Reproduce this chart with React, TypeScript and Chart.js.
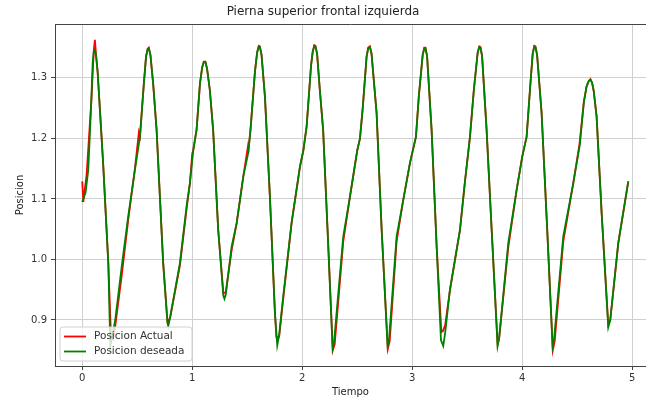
import React, { useEffect, useRef } from "react";
import { Chart, registerables } from "chart.js";

Chart.register(...registerables);

const chartTitle = "Pierna superior frontal izquierda";
const xAxisLabel = "Tiempo";
const yAxisLabel = "Posicion";
const seriesLabels = ["Posicion Actual", "Posicion deseada"];

const xTicks = [0, 1, 2, 3, 4, 5];
const yTicks = [0.9, 1.0, 1.1, 1.2, 1.3];

// [tiempo, posicion]
const posicionDeseada: [number, number][] = [
  [0.0, 1.095], [0.03, 1.11], [0.055, 1.148], [0.08, 1.25], [0.095, 1.325], [0.105, 1.343], [0.115, 1.346],
  [0.125, 1.338], [0.14, 1.31], [0.16, 1.25], [0.19, 1.159], [0.237, 0.994], [0.255, 0.857], [0.275, 0.875],
  [0.3, 0.9], [0.36, 0.99], [0.418, 1.071], [0.479, 1.148], [0.525, 1.203], [0.56, 1.29], [0.58, 1.335],
  [0.595, 1.348], [0.605, 1.349], [0.62, 1.338], [0.645, 1.29], [0.676, 1.214], [0.736, 0.994], [0.775, 0.895],
  [0.782, 0.89], [0.8, 0.905], [0.888, 0.994], [0.95, 1.09], [0.979, 1.126], [1.01, 1.181], [1.04, 1.215],
  [1.07, 1.29], [1.09, 1.317], [1.105, 1.326], [1.12, 1.326], [1.135, 1.315], [1.16, 1.28], [1.19, 1.214],
  [1.236, 1.049], [1.283, 0.94], [1.293, 0.935], [1.305, 0.942], [1.358, 1.021], [1.404, 1.06], [1.464, 1.137],
  [1.509, 1.176], [1.53, 1.215], [1.57, 1.31], [1.59, 1.342], [1.605, 1.352], [1.615, 1.351], [1.63, 1.338],
  [1.661, 1.269], [1.706, 1.104], [1.752, 0.911], [1.773, 0.858], [1.79, 0.875], [1.827, 0.939], [1.903, 1.06],
  [1.979, 1.153], [2.01, 1.18], [2.04, 1.22], [2.08, 1.32], [2.095, 1.343], [2.11, 1.353], [2.12, 1.352],
  [2.135, 1.34], [2.16, 1.28], [2.19, 1.214], [2.23, 1.05], [2.276, 0.853], [2.29, 0.865], [2.373, 1.038],
  [2.434, 1.104], [2.5, 1.18], [2.525, 1.2], [2.55, 1.25], [2.585, 1.335], [2.6, 1.349], [2.615, 1.351],
  [2.63, 1.34], [2.676, 1.242], [2.722, 1.049], [2.776, 0.857], [2.79, 0.87], [2.858, 1.038], [2.918, 1.098],
  [2.98, 1.16], [3.034, 1.203], [3.06, 1.27], [3.095, 1.338], [3.11, 1.349], [3.12, 1.349], [3.135, 1.336],
  [3.176, 1.214], [3.222, 1.021], [3.261, 0.867], [3.282, 0.857], [3.3, 0.88], [3.343, 0.95], [3.434, 1.049],
  [3.48, 1.13], [3.525, 1.203], [3.56, 1.28], [3.595, 1.342], [3.61, 1.351], [3.62, 1.35], [3.635, 1.336],
  [3.676, 1.214], [3.722, 1.049], [3.776, 0.857], [3.79, 0.87], [3.873, 1.027], [3.949, 1.115], [4.0, 1.17],
  [4.04, 1.203], [4.07, 1.28], [4.095, 1.34], [4.11, 1.352], [4.12, 1.351], [4.135, 1.338], [4.176, 1.242],
  [4.227, 1.049], [4.276, 0.856], [4.29, 0.87], [4.373, 1.038], [4.464, 1.126], [4.524, 1.19], [4.56, 1.26],
  [4.585, 1.286], [4.605, 1.295], [4.62, 1.297], [4.635, 1.292], [4.65, 1.278], [4.676, 1.236], [4.722, 1.076],
  [4.782, 0.888], [4.8, 0.9], [4.873, 1.027], [4.964, 1.129],
];

const posicionActual: [number, number][] = [
  [0.0, 1.129], [0.01, 1.095], [0.04, 1.14], [0.085, 1.269], [0.105, 1.345], [0.115, 1.363], [0.125, 1.34],
  [0.14, 1.31], [0.16, 1.25], [0.19, 1.159], [0.237, 0.994], [0.262, 0.87], [0.28, 0.868], [0.3, 0.89],
  [0.36, 0.975], [0.418, 1.065], [0.479, 1.15], [0.515, 1.21], [0.525, 1.203], [0.56, 1.29], [0.58, 1.335],
  [0.595, 1.348], [0.605, 1.35], [0.62, 1.338], [0.645, 1.29], [0.676, 1.214], [0.736, 0.994], [0.775, 0.897],
  [0.782, 0.897], [0.8, 0.905], [0.888, 0.99], [0.95, 1.085], [0.979, 1.126], [1.0, 1.175], [1.01, 1.181],
  [1.04, 1.215], [1.07, 1.29], [1.09, 1.317], [1.105, 1.327], [1.12, 1.327], [1.135, 1.315], [1.16, 1.28],
  [1.19, 1.214], [1.236, 1.049], [1.283, 0.944], [1.293, 0.945], [1.305, 0.946], [1.358, 1.015], [1.404, 1.06],
  [1.464, 1.137], [1.505, 1.185], [1.509, 1.176], [1.53, 1.215], [1.57, 1.31], [1.59, 1.342], [1.605, 1.353],
  [1.615, 1.352], [1.63, 1.338], [1.661, 1.269], [1.706, 1.104], [1.752, 0.911], [1.765, 0.872], [1.79, 0.872],
  [1.827, 0.935], [1.903, 1.06], [1.979, 1.153], [2.01, 1.18], [2.04, 1.22], [2.08, 1.32], [2.095, 1.343],
  [2.11, 1.354], [2.12, 1.353], [2.135, 1.34], [2.16, 1.28], [2.19, 1.214], [2.23, 1.05], [2.278, 0.85],
  [2.295, 0.86], [2.373, 1.03], [2.434, 1.104], [2.5, 1.18], [2.525, 1.2], [2.55, 1.25], [2.585, 1.335],
  [2.6, 1.35], [2.615, 1.352], [2.63, 1.34], [2.676, 1.242], [2.722, 1.049], [2.778, 0.852], [2.795, 0.865],
  [2.858, 1.03], [2.918, 1.098], [2.98, 1.16], [3.034, 1.203], [3.06, 1.27], [3.095, 1.338], [3.11, 1.35],
  [3.12, 1.35], [3.135, 1.336], [3.176, 1.214], [3.222, 1.021], [3.265, 0.88], [3.28, 0.882], [3.3, 0.892],
  [3.343, 0.95], [3.434, 1.049], [3.48, 1.13], [3.525, 1.203], [3.56, 1.28], [3.595, 1.342], [3.61, 1.352],
  [3.62, 1.351], [3.635, 1.336], [3.676, 1.214], [3.722, 1.049], [3.776, 0.86], [3.79, 0.87], [3.873, 1.02],
  [3.949, 1.115], [4.0, 1.17], [4.04, 1.203], [4.07, 1.28], [4.095, 1.34], [4.11, 1.353], [4.12, 1.352],
  [4.135, 1.338], [4.176, 1.242], [4.227, 1.049], [4.278, 0.85], [4.295, 0.865], [4.373, 1.03], [4.464, 1.126],
  [4.52, 1.19], [4.524, 1.19], [4.56, 1.26], [4.585, 1.286], [4.605, 1.295], [4.62, 1.298], [4.635, 1.292],
  [4.65, 1.278], [4.676, 1.236], [4.722, 1.076], [4.782, 0.892], [4.8, 0.9], [4.873, 1.027], [4.964, 1.129],
];

const pts = (pairs: [number, number][]) => pairs.map(([x, y]) => ({ x, y }));

const FONT = "'DejaVu Sans', sans-serif";

const framePlugin = {
  id: "frameAndLegend",
  afterDatasetsDraw(chart: any) {
    const { ctx, chartArea } = chart;
    ctx.save();
    ctx.strokeStyle = "#444444";
    ctx.lineWidth = 1;
    ctx.beginPath();
    ctx.moveTo(chartArea.left, chartArea.top + 0.5);
    ctx.lineTo(chartArea.right, chartArea.top + 0.5);
    ctx.stroke();

    const lx = chartArea.left + 5;
    const ly = chartArea.bottom - 39;
    const w = 132;
    const h = 34;
    const r = 3;
    ctx.beginPath();
    ctx.moveTo(lx + r, ly);
    ctx.lineTo(lx + w - r, ly);
    ctx.quadraticCurveTo(lx + w, ly, lx + w, ly + r);
    ctx.lineTo(lx + w, ly + h - r);
    ctx.quadraticCurveTo(lx + w, ly + h, lx + w - r, ly + h);
    ctx.lineTo(lx + r, ly + h);
    ctx.quadraticCurveTo(lx, ly + h, lx, ly + h - r);
    ctx.lineTo(lx, ly + r);
    ctx.quadraticCurveTo(lx, ly, lx + r, ly);
    ctx.closePath();
    ctx.fillStyle = "rgba(255,255,255,0.8)";
    ctx.fill();
    ctx.strokeStyle = "#d0d0d0";
    ctx.stroke();

    chart.data.datasets.forEach((ds: any, i: number) => {
      const yy = ly + 9.5 + i * 15;
      ctx.strokeStyle = ds.borderColor;
      ctx.lineWidth = 1.8;
      ctx.beginPath();
      ctx.moveTo(lx + 4, yy);
      ctx.lineTo(lx + 26, yy);
      ctx.stroke();
      ctx.fillStyle = "#333333";
      ctx.font = `10.5px ${FONT}`;
      ctx.textBaseline = "middle";
      ctx.textAlign = "left";
      ctx.fillText(ds.label, lx + 34, yy);
    });
    ctx.restore();
  },
};

export default function App() {
  const ref = useRef<HTMLCanvasElement | null>(null);

  useEffect(() => {
    if (!ref.current) return;
    const chart = new Chart(ref.current, {
      type: "line",
      data: {
        datasets: [
          {
            label: seriesLabels[0],
            data: pts(posicionActual),
            borderColor: "#ff0000",
            borderWidth: 1.8,
            pointRadius: 0,
            tension: 0,
            fill: false,
            order: 2,
          },
          {
            label: seriesLabels[1],
            data: pts(posicionDeseada),
            borderColor: "#008000",
            borderWidth: 1.8,
            pointRadius: 0,
            tension: 0,
            fill: false,
            order: 1,
          },
        ],
      },
      options: {
        responsive: false,
        animation: false,
        events: [],
        layout: { padding: 0 },
        plugins: {
          legend: { display: false },
          tooltip: { enabled: false },
          title: {
            display: true,
            text: chartTitle,
            color: "#222222",
            font: { family: FONT, size: 12, weight: "normal" },
            padding: { top: 5, bottom: 4.6 },
          },
        },
        scales: {
          x: {
            type: "linear",
            min: -0.2475,
            max: 5.125,
            afterBuildTicks: (s: any) => {
              s.ticks = xTicks.map((v) => ({ value: v }));
            },
            afterFit: (s: any) => {
              s.height = 37;
            },
            ticks: {
              includeBounds: false,
              color: "#333333",
              font: { family: FONT, size: 10 },
              padding: 2,
              maxRotation: 0,
              callback: (v: any) => String(v),
            },
            grid: { color: "#d0d0d0", lineWidth: 1, tickLength: 4, tickColor: "#444444" },
            border: { display: true, color: "#444444", width: 1 },
            title: {
              display: true,
              text: xAxisLabel,
              color: "#222222",
              font: { family: FONT, size: 10 },
              padding: { top: 0, bottom: 5 },
            },
          },
          y: {
            type: "linear",
            min: 0.824,
            max: 1.389,
            afterBuildTicks: (s: any) => {
              s.ticks = yTicks.map((v) => ({ value: v }));
            },
            afterFit: (s: any) => {
              s.width = 55;
            },
            ticks: {
              includeBounds: false,
              color: "#333333",
              font: { family: FONT, size: 10 },
              padding: 4,
              callback: (v: any) => Number(v).toFixed(1),
            },
            grid: { color: "#d0d0d0", lineWidth: 1, tickLength: 4, tickColor: "#444444" },
            border: { display: true, color: "#444444", width: 1 },
            title: {
              display: true,
              text: yAxisLabel,
              color: "#222222",
              font: { family: FONT, size: 10 },
              padding: { top: 14, bottom: 0 },
            },
          },
        },
      },
      plugins: [framePlugin],
    } as any);
    return () => chart.destroy();
  }, []);

  return (
    <div style={{ position: "absolute", left: 0, top: 0, width: 646, height: 403, background: "#ffffff" }}>
      <canvas ref={ref} width={646} height={403} />
    </div>
  );
}
